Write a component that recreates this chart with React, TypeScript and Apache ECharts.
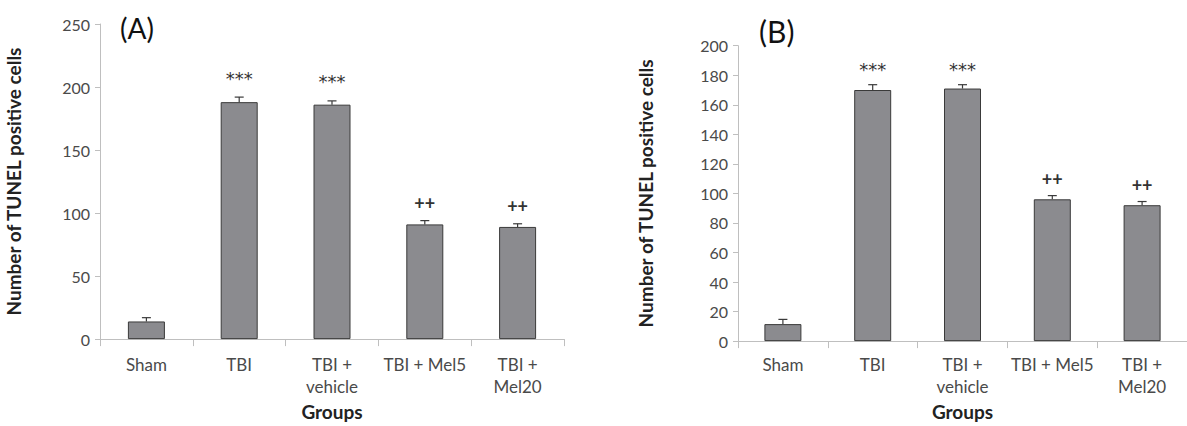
import React, { useEffect, useRef } from "react";
import * as echarts from "echarts";

const categories = ["Sham", "TBI", "TBI +\nvehicle", "TBI + Mel5", "TBI +\nMel20"];

const valuesA = [14, 188, 186, 91, 89];
const errTopA = [17, 192, 189, 94, 91.5];
const marksA = ["", "***", "***", "++", "++"];

const valuesB = [11.5, 170, 171, 96, 92];
const errTopB = [14.7, 173.6, 173.6, 98.5, 94.5];
const marksB = ["", "***", "***", "++", "++"];

const ticksA = { max: 250, interval: 50 };
const ticksB = { max: 200, interval: 20 };

const FONT = "Lato, 'Open Sans', sans-serif";
const AXIS_COLOR = "#bfbfbf";
const TEXT_COLOR = "#4a4a4a";

function xAxisFor(gridIndex: number, nameGap: number, margin: number) {
  return {
    type: "category",
    gridIndex,
    data: categories,
    name: "Groups",
    nameLocation: "middle",
    nameGap,
    nameTextStyle: { fontFamily: FONT, fontWeight: "bold", fontSize: 19, color: "#222" },
    axisLine: { show: true, lineStyle: { color: AXIS_COLOR, width: 1 } },
    axisTick: { show: true, length: 7, lineStyle: { color: AXIS_COLOR } },
    axisLabel: { fontFamily: FONT, fontSize: 17, color: TEXT_COLOR, margin, lineHeight: 22, interval: 0 },
    splitLine: { show: false },
  };
}

function yAxisFor(gridIndex: number, t: { max: number; interval: number }, nameGap: number) {
  return {
    type: "value",
    gridIndex,
    min: 0,
    max: t.max,
    interval: t.interval,
    name: "Number of TUNEL positive cells",
    nameLocation: "middle",
    nameGap,
    nameRotate: 90,
    nameTextStyle: { fontFamily: FONT, fontWeight: "bold", fontSize: 19, color: "#222" },
    axisLine: { show: true, lineStyle: { color: AXIS_COLOR, width: 1 } },
    axisTick: { show: true, length: 5, lineStyle: { color: AXIS_COLOR } },
    axisLabel: { fontFamily: FONT, fontSize: 16, color: TEXT_COLOR, margin: 10 },
    splitLine: { show: false },
  };
}

function seriesFor(
  idx: number,
  values: number[],
  errTop: number[],
  marks: string[],
  barWidth: number,
  starOffset: number,
  plusOffset: number
) {
  return [
    {
      type: "bar",
      xAxisIndex: idx,
      yAxisIndex: idx,
      data: values,
      barWidth,
      itemStyle: { color: "#8b8b8f", borderColor: "#3a3a3a", borderWidth: 1 },
    },
    {
      type: "custom",
      xAxisIndex: idx,
      yAxisIndex: idx,
      data: values.map((v, i) => [i, v, errTop[i]]),
      renderItem: (params: any, api: any) => {
        const i = api.value(0);
        const p0 = api.coord([i, api.value(1)]);
        const p1 = api.coord([i, api.value(2)]);
        const style = { stroke: "#3a3a3a", lineWidth: 1.2 };
        return {
          type: "group",
          children: [
            { type: "line", shape: { x1: p0[0], y1: p0[1], x2: p1[0], y2: p1[1] }, style },
            { type: "line", shape: { x1: p1[0] - 4.5, y1: p1[1], x2: p1[0] + 4.5, y2: p1[1] }, style },
          ],
        };
      },
      z: 3,
    },
    {
      type: "custom",
      xAxisIndex: idx,
      yAxisIndex: idx,
      data: values.map((v, i) => [i, errTop[i]]),
      renderItem: (params: any, api: any) => {
        const i = api.value(0);
        const p = api.coord([i, api.value(1)]);
        const txt = marks[params.dataIndex];
        if (!txt) return null;
        const isStar = txt.startsWith("*");
        return {
          type: "text",
          x: p[0],
          y: p[1] - (isStar ? starOffset : plusOffset),
          style: {
            text: txt,
            fontFamily: isStar ? "'DejaVu Sans', sans-serif" : FONT,
            fontSize: 18,
            fontWeight: isStar ? "normal" : "bold",
            fill: "#333",
            align: "center",
            verticalAlign: "middle",
          },
        };
      },
      z: 4,
    },
  ];
}

export default function App() {
  const ref = useRef<HTMLDivElement>(null);
  useEffect(() => {
    document.body.style.margin = "0";
    const chart = echarts.init(ref.current!, null, { renderer: "svg" });
    chart.setOption({
      animation: false,
      backgroundColor: "#ffffff",
      grid: [
        { left: 100, top: 24, width: 464, height: 318 },
        { left: 738, top: 45.7, width: 449, height: 303.3 },
      ],
      xAxis: [xAxisFor(0, 62, 14), xAxisFor(1, 58, 12)],
      yAxis: [yAxisFor(0, ticksA, 77), yAxisFor(1, ticksB, 83)],
      graphic: [
        {
          type: "text",
          left: 120,
          top: 14,
          style: { text: "(A)", fontFamily: FONT, fontSize: 28, fill: "#111" },
        },
        {
          type: "text",
          left: 759,
          top: 16,
          style: { text: "(B)", fontFamily: FONT, fontSize: 30, fill: "#111" },
        },
      ],
      series: [
        ...seriesFor(0, valuesA, errTopA, marksA, 37, 19, 18),
        ...seriesFor(1, valuesB, errTopB, marksB, 37, 15, 17),
      ],
    });
    return () => chart.dispose();
  }, []);
  return <div ref={ref} style={{ width: 1187, height: 426 }} />;
}
